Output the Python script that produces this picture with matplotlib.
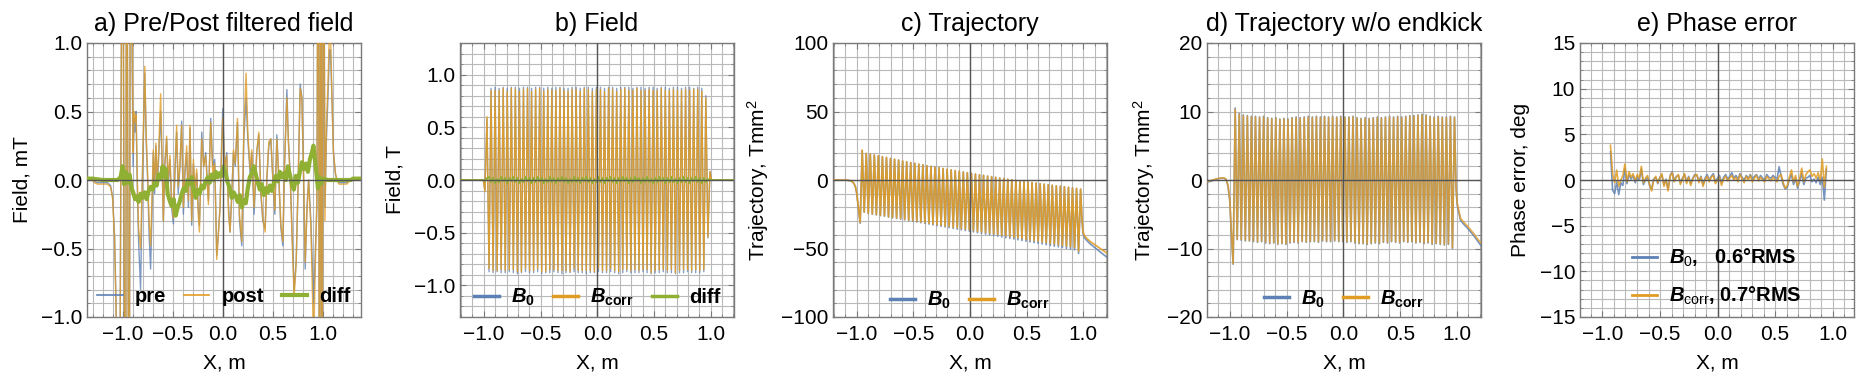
import numpy as np
import matplotlib
matplotlib.use("Agg")
import matplotlib.pyplot as plt
from matplotlib.ticker import MultipleLocator, FuncFormatter
from matplotlib.lines import Line2D

plt.rcParams['font.family'] = ['Liberation Sans', 'DejaVu Sans']
plt.rcParams['mathtext.fontset'] = 'custom'
plt.rcParams['mathtext.rm'] = 'Liberation Sans'
plt.rcParams['mathtext.it'] = 'Liberation Sans:italic:bold'
plt.rcParams['mathtext.bf'] = 'Liberation Sans:bold'

# ---------------- data ----------------
titles = ["a) Pre/Post filtered field", "b) Field", "c) Trajectory",
          "d) Trajectory w/o endkick", "e) Phase error"]
ylabels = ["Field, mT", "Field, T", "Trajectory, Tmm$^2$",
           "Trajectory, Tmm$^2$", "Phase error, deg"]
xlabel = "X, m"

# panel a: pre / post filtered field (mT)
a_x = [-1.36, -1.30, -1.28, -1.25, -1.15, -1.12, -1.10, -1.08, -1.065, -1.05,
       -1.035, -1.015, -1.0, -0.985, -0.97, -0.96, -0.945, -0.935, -0.92, -0.905,
       -0.895, -0.885, -0.875, -0.865, -0.852, -0.84, -0.82, -0.805, -0.79, -0.778,
       -0.765, -0.75, -0.735, -0.72, -0.705, -0.693, -0.68, -0.667, -0.655, -0.64,
       -0.62, -0.605, -0.593, -0.578, -0.56, -0.545, -0.527, -0.51, -0.493, -0.477,
       -0.46, -0.445, -0.427, -0.41, -0.393, -0.377, -0.36, -0.343, -0.327, -0.31,
       -0.293, -0.277, -0.26, -0.245, -0.233, -0.22, -0.21, -0.19, -0.17, -0.143,
       -0.12, -0.10, -0.08, -0.06, -0.045, -0.027, -0.01, 0.0, 0.02, 0.04,
       0.058, 0.073, 0.09, 0.107, 0.125, 0.147, 0.167, 0.19, 0.21, 0.233,
       0.25, 0.273, 0.29, 0.313, 0.34, 0.36, 0.38, 0.40, 0.423, 0.44,
       0.46, 0.48, 0.50, 0.52, 0.54, 0.56, 0.58, 0.60, 0.617, 0.64,
       0.655, 0.673, 0.693, 0.713, 0.733, 0.753, 0.773, 0.79, 0.807, 0.823,
       0.84, 0.857, 0.88, 0.907, 0.925, 0.94, 0.955, 0.965, 0.98, 0.99,
       1.005, 1.02, 1.035, 1.05, 1.065, 1.075, 1.09, 1.105, 1.125, 1.14,
       1.16, 1.24, 1.27, 1.38]
a_pre = [0.0, 0.0, -0.01, -0.02, -0.02, -0.04, -0.12, -0.4, -0.9, -2.0,
         -3.0, 0.5, 3.0, -0.5, -3.0, 3.0, -0.5, -3.0, 3.0, 0.9,
         0.1, 0.45, 0.35, 0.5, -0.1, -0.45, -0.8, -0.1, 0.4, 0.78,
         0.3, 0.0, -0.4, -0.65, -0.2, 0.2, -0.1, 0.25, -0.05, 0.15,
         0.5, 0.1, -0.3, 0.1, 0.3, -0.05, 0.15, -0.2, -0.32, 0.05,
         0.35, -0.1, 0.1, 0.43, -0.25, 0.05, 0.2, -0.2, 0.38, -0.33,
         0.12, -0.1, 0.05, -0.2, -0.33, 0.0, 0.35, 0.1, 0.2, -0.15,
         0.45, 0.1, 0.15, -0.55, -0.4, -0.2, 0.3, 0.52, 0.1, 0.2,
         -0.2, -0.38, -0.1, 0.2, 0.1, 0.42, -0.3, -0.48, 0.3, 0.6,
         0.3, 0.05, 0.2, -0.25, 0.2, 0.33, -0.1, -0.3, -0.35, 0.0,
         0.25, 0.3, 0.0, -0.25, 0.33, 0.0, -0.35, -0.48, 0.1, 0.66,
         0.3, 0.05, -0.4, -0.8, -0.6, 0.0, 0.7, 0.6, 0.0, -0.65,
         -0.2, 0.0, -0.3, -0.9, -0.5, -0.2, 3.0, -3.0, 3.0, -3.0,
         3.0, -0.2, 0.3, 0.6, 0.95, 0.95, 0.6, 0.2, 0.04, 0.0,
         -0.02, -0.02, 0.0, 0.0]
a_post = [0.0, 0.0, -0.02, -0.03, -0.03, -0.05, -0.13, -0.42, -0.95, -2.0,
          -3.0, 0.4, 3.0, -0.4, -3.0, 3.0, -0.6, -3.0, 3.0, 1.2,
          0.2, 0.5, 0.42, 0.48, 0.0, -0.35, -0.5, -0.05, 0.45, 0.83,
          0.35, 0.05, -0.3, -0.48, -0.1, 0.22, -0.05, 0.27, 0.0, 0.2,
          0.63, 0.15, -0.3, 0.12, 0.32, 0.0, 0.18, -0.15, -0.28, 0.1,
          0.4, -0.05, 0.12, 0.4, -0.2, 0.08, 0.25, -0.15, 0.4, -0.3,
          0.15, -0.08, 0.08, -0.25, -0.38, 0.0, 0.3, 0.1, 0.18, -0.18,
          0.42, 0.05, 0.12, -0.58, -0.42, -0.2, 0.25, 0.45, 0.08, 0.18,
          -0.25, -0.38, -0.12, 0.22, 0.12, 0.45, -0.25, -0.45, 0.35, 0.78,
          0.35, 0.08, 0.22, -0.2, 0.22, 0.35, -0.08, -0.28, -0.38, 0.02,
          0.28, 0.3, 0.02, -0.22, 0.3, 0.02, -0.32, -0.45, 0.12, 0.6,
          0.28, 0.02, -0.45, -0.85, -0.6, 0.0, 0.67, 0.6, 0.05, -0.6,
          -0.25, 0.0, -0.35, -1.2, -0.6, -0.1, 3.0, -3.0, 3.0, -3.0,
          3.0, -0.3, 0.4, 0.7, 1.1, 1.1, 0.6, 0.2, 0.05, 0.0,
          -0.03, -0.03, 0.0, 0.0]
a_diff_x = [-1.36, -1.30, -1.20, -1.05, -1.02, -1.0, -0.985, -0.97, -0.95, -0.93,
            -0.91, -0.89, -0.875, -0.86, -0.84, -0.82, -0.80, -0.78, -0.76, -0.74,
            -0.72, -0.70, -0.68, -0.66, -0.64, -0.62, -0.60, -0.585, -0.57, -0.55,
            -0.53, -0.51, -0.49, -0.47, -0.45, -0.43, -0.41, -0.39, -0.37, -0.35,
            -0.33, -0.31, -0.29, -0.27, -0.25, -0.23, -0.21, -0.19, -0.17, -0.15,
            -0.13, -0.11, -0.09, -0.07, -0.05, -0.03, -0.01, 0.01, 0.03, 0.05,
            0.07, 0.09, 0.11, 0.13, 0.15, 0.17, 0.19, 0.21, 0.23, 0.25,
            0.27, 0.29, 0.31, 0.33, 0.35, 0.37, 0.39, 0.41, 0.43, 0.45,
            0.47, 0.49, 0.51, 0.53, 0.55, 0.57, 0.59, 0.61, 0.63, 0.65,
            0.67, 0.69, 0.71, 0.73, 0.75, 0.77, 0.79, 0.81, 0.83, 0.85,
            0.87, 0.89, 0.905, 0.92, 0.935, 0.95, 0.965, 0.98, 1.0, 1.05,
            1.28, 1.30, 1.38]
a_diff = [0.01, 0.01, 0.0, 0.0, 0.02, 0.10, -0.03, 0.06, -0.02, 0.04,
          -0.06, -0.10, -0.14, -0.12, -0.16, -0.10, -0.13, -0.09, -0.14, -0.08,
          -0.05, -0.07, -0.02, -0.04, 0.04, 0.01, 0.10, 0.03, 0.08, -0.10,
          -0.15, -0.19, -0.14, -0.26, -0.20, -0.16, -0.10, -0.06, -0.08, 0.0,
          -0.03, 0.02, -0.08, -0.13, -0.07, -0.10, -0.04, -0.06, -0.01, 0.02,
          -0.02, 0.04, 0.0, 0.06, 0.02, 0.05, 0.03, 0.10, 0.04, -0.02,
          -0.06, -0.13, -0.09, -0.12, -0.16, -0.11, -0.20, -0.15, -0.17, -0.06,
          0.02, 0.05, 0.10, 0.04, -0.02, -0.07, -0.03, -0.11, -0.06, -0.09,
          -0.04, -0.08, -0.02, 0.03, -0.01, 0.06, 0.02, 0.05, 0.0, 0.10,
          0.04, -0.03, -0.07, 0.03, -0.02, 0.06, 0.13, 0.08, 0.12, 0.06,
          0.15, 0.20, 0.25, 0.15, 0.05, -0.06, 0.02, -0.03, 0.01, 0.0,
          0.0, 0.01, 0.01]

# panel b: peak field per pole (T), poles from pole_x0 with spacing pole_step
pole_x0 = -0.99
pole_step = 0.01786
b_B0 = [-0.10, 0.58, -0.87, 0.87, -0.88, 0.88, -0.87, 0.87, -0.88, 0.88,
        -0.88, 0.87, -0.87, 0.88, -0.88, 0.88, -0.89, 0.87, -0.88, 0.88,
        -0.87, 0.88, -0.88, 0.87, -0.88, 0.88, -0.87, 0.88, -0.89, 0.87,
        -0.88, 0.88, -0.88, 0.87, -0.87, 0.88, -0.88, 0.88, -0.89, 0.87,
        -0.88, 0.87, -0.88, 0.88, -0.87, 0.88, -0.88, 0.87, -0.88, 0.88,
        -0.89, 0.88, -0.88, 0.87, -0.88, 0.88, -0.87, 0.88, -0.88, 0.87,
        -0.88, 0.88, -0.87, 0.88, -0.88, 0.87, -0.89, 0.88, -0.88, 0.88,
        -0.87, 0.88, -0.88, 0.87, -0.88, 0.88, -0.88, 0.88, -0.87, 0.87,
        -0.88, 0.88, -0.89, 0.88, -0.88, 0.87, -0.88, 0.88, -0.87, 0.88,
        -0.88, 0.87, -0.88, 0.88, -0.89, 0.88, -0.88, 0.87, -0.88, 0.88,
        -0.87, 0.88, -0.88, 0.87, -0.88, 0.88, -0.88, 0.87, -0.87, 0.80,
        -0.55, 0.08]
b_diff = [-0.01, 0.02, 0.03, -0.02, 0.02, -0.03, 0.01, -0.02, 0.03, -0.01,
          0.02, -0.03, 0.02, -0.01, 0.03, -0.02, 0.02, -0.03, 0.01, -0.02,
          0.03, -0.01, 0.02, -0.03, 0.02, -0.02, 0.03, -0.01, 0.02, -0.03,
          0.01, -0.02, 0.03, -0.02, 0.02, -0.03, 0.02, -0.01, 0.03, -0.02,
          0.02, -0.03, 0.01, -0.02, 0.03, -0.02, 0.02, -0.03, 0.02, -0.01,
          0.03, -0.02, 0.02, -0.03, 0.01, -0.02, 0.03, -0.02, 0.02, -0.03,
          0.02, -0.01, 0.03, -0.02, 0.02, -0.03, 0.02, -0.02, 0.03, -0.01,
          0.02, -0.03, 0.02, -0.02, 0.03, -0.01, 0.02, -0.03, 0.02, -0.02,
          0.03, -0.02, 0.01, -0.03, 0.02, -0.02, 0.03, -0.01, 0.02, -0.03,
          0.02, -0.02, 0.03, -0.02, 0.01, -0.03, 0.02, -0.02, 0.03, -0.02,
          0.02, -0.03, 0.02, -0.01, 0.03, -0.02, 0.02, -0.03, 0.02, -0.02,
          0.01, 0.00]
b_in_x = [-1.22, -1.005]
b_in_y = [0.0, 0.0]
b_out_x = [1.008, 1.22]
b_out_y = [0.0, 0.0]

# panels c, d: trajectory extrema, from traj_x0 with spacing pole_step
traj_x0 = -0.97
c_B0 = [-31.5, 21.5, -23.5, 19.3, -24.5, 18.8, -25.0, 18.2, -25.5, 17.6,
        -26.0, 17.0, -26.5, 16.4, -27.1, 15.7, -27.6, 15.1, -28.1, 14.5,
        -28.6, 13.8, -29.1, 13.2, -29.7, 12.6, -30.2, 12.1, -30.7, 11.5,
        -31.2, 11.0, -31.7, 10.4, -32.2, 9.9, -32.8, 9.4, -33.3, 8.9,
        -33.8, 8.3, -34.3, 7.8, -34.8, 7.3, -35.4, 6.8, -35.9, 6.3,
        -36.4, 5.8, -36.9, 5.3, -37.4, 4.8, -37.9, 4.3, -38.5, 3.8,
        -39.0, 3.3, -39.5, 2.8, -40.0, 2.4, -40.5, 1.9, -41.0, 1.4,
        -41.6, 1.0, -42.1, 0.5, -42.6, 0.1, -43.1, -0.3, -43.6, -0.7,
        -44.2, -1.1, -44.7, -1.5, -45.2, -1.9, -45.7, -2.3, -46.2, -2.7,
        -46.7, -3.1, -47.3, -3.5, -47.8, -3.9, -48.3, -4.3, -48.8, -4.6,
        -49.3, -5.0, -49.9, -5.4, -50.4, -5.8, -50.9, -6.2, -53.6, -6.8]
c_Bcorr = [-31.0, 21.8, -23.3, 19.4, -24.3, 18.9, -24.8, 18.3, -25.3, 17.7,
           -25.8, 17.1, -26.2, 16.5, -26.8, 15.8, -27.3, 15.2, -27.8, 14.6,
           -28.2, 13.9, -28.7, 13.3, -29.3, 12.7, -29.7, 12.2, -30.2, 11.6,
           -30.7, 11.1, -31.1, 10.5, -31.6, 10.0, -32.2, 9.5, -32.6, 9.0,
           -33.1, 8.4, -33.6, 7.9, -34.0, 7.4, -34.6, 6.9, -35.0, 6.4,
           -35.5, 5.9, -36.0, 5.4, -36.4, 4.9, -36.9, 4.4, -37.5, 3.9,
           -37.9, 3.4, -38.4, 2.9, -38.9, 2.5, -39.3, 2.0, -39.8, 1.5,
           -40.4, 1.1, -40.8, 0.6, -41.3, 0.2, -41.8, -0.2, -42.3, -0.6,
           -42.8, -1.0, -43.3, -1.4, -43.8, -1.8, -44.3, -2.2, -44.8, -2.6,
           -45.3, -3.0, -45.8, -3.4, -46.3, -3.8, -46.8, -4.2, -47.3, -4.5,
           -47.8, -4.9, -48.3, -5.3, -48.8, -5.7, -49.3, -6.1, -52.0, -6.6]
c_in_x = [-1.22, -1.09, -1.06, -1.04, -1.025, -1.012, -1.0, -0.988]
c_in_B0 = [0.0, -0.1, -0.5, -1.2, -2.6, -5.0, -10.0, -19.0]
c_in_Bcorr = [0.0, -0.1, -0.5, -1.1, -2.5, -4.8, -9.6, -18.5]
c_out_x = [0.988, 0.998, 1.01, 1.03, 1.06, 1.09, 1.12, 1.15, 1.18, 1.22]
c_out_B0 = [-28.0, -39.0, -42.0, -44.0, -46.5, -48.5, -50.5, -52.5, -54.5, -57.0]
c_out_Bcorr = [-27.0, -37.5, -40.5, -42.5, -44.8, -46.5, -48.3, -50.0, -51.7, -54.0]

d_B0 = [-12.3, 10.5, -8.7, 9.7, -8.8, 9.5, -8.9, 9.4, -8.9, 9.3,
        -9.0, 9.3, -9.1, 9.2, -9.0, 9.3, -9.2, 9.1, -9.3, 9.0,
        -9.2, 9.1, -9.4, 8.9, -9.3, 9.0, -9.4, 8.9, -9.2, 9.1,
        -9.1, 9.2, -9.2, 9.1, -9.0, 9.2, -9.1, 9.3, -9.0, 9.2,
        -9.0, 9.3, -9.1, 9.2, -8.9, 9.3, -9.0, 9.2, -9.0, 9.3,
        -8.9, 9.2, -9.0, 9.3, -9.0, 9.2, -9.1, 9.2, -9.0, 9.3,
        -9.2, 9.1, -9.3, 9.0, -9.3, 9.1, -9.4, 9.0, -9.3, 9.1,
        -9.2, 9.2, -9.3, 9.1, -9.1, 9.2, -9.2, 9.3, -9.0, 9.2,
        -9.1, 9.3, -9.2, 9.2, -9.0, 9.3, -9.1, 9.4, -9.0, 9.4,
        -9.2, 9.5, -9.1, 9.6, -9.3, 9.5, -9.2, 9.3, -9.4, 9.2,
        -9.3, 9.3, -9.4, 9.2, -9.5, 9.2, -9.4, 9.3, -10.0, 9.2]
d_Bcorr = [-12.2, 10.3, -8.6, 9.6, -8.7, 9.4, -8.8, 9.3, -8.8, 9.2,
           -8.9, 9.2, -9.0, 9.1, -8.9, 9.2, -9.1, 9.0, -9.2, 8.9,
           -9.1, 9.0, -9.3, 8.8, -9.2, 8.9, -9.3, 8.8, -9.1, 9.0,
           -9.0, 9.1, -9.1, 9.0, -8.9, 9.1, -9.0, 9.2, -8.9, 9.1,
           -8.9, 9.2, -9.0, 9.1, -8.8, 9.2, -8.9, 9.1, -8.9, 9.2,
           -8.8, 9.1, -8.9, 9.2, -8.9, 9.1, -9.0, 9.1, -8.9, 9.2,
           -9.1, 9.0, -9.2, 8.9, -9.2, 9.0, -9.3, 8.9, -9.2, 9.0,
           -9.1, 9.1, -9.2, 9.0, -9.0, 9.1, -9.1, 9.2, -8.9, 9.1,
           -9.0, 9.2, -9.1, 9.1, -8.9, 9.2, -9.0, 9.3, -8.9, 9.3,
           -9.1, 9.4, -9.0, 9.5, -9.2, 9.4, -9.1, 9.2, -9.3, 9.1,
           -9.2, 9.2, -9.3, 9.1, -9.4, 9.1, -9.3, 9.2, -9.9, 9.1]
d_in_x = [-1.22, -1.17, -1.12, -1.08, -1.05, -1.03, -1.015, -1.0, -0.988]
d_in_B0 = [-0.4, -0.2, 0.1, 0.25, 0.25, 0.05, -0.9, -3.0, -7.0]
d_in_Bcorr = [-0.3, -0.1, 0.15, 0.3, 0.3, 0.1, -0.8, -2.8, -6.8]
d_out_x = [0.99, 1.0, 1.03, 1.06, 1.09, 1.12, 1.15, 1.18, 1.22]
d_out_B0 = [-1.0, -3.6, -5.9, -6.5, -7.0, -7.6, -8.2, -8.9, -9.8]
d_out_Bcorr = [-0.9, -3.3, -5.6, -6.2, -6.7, -7.3, -7.9, -8.6, -9.4]

# panel e: phase error per pole (deg)
phase_x0 = -0.93
e_B0 = [3.1, -1.1, -1.5, -0.2, -1.6, -0.3, -0.6, 1.3, -0.4, 0.6,
        0.1, 0.5, -0.3, 0.4, 0.0, 1.2, -0.5, 0.0, 0.3, -0.6,
        -1.0, 0.1, 0.3, -0.4, 0.3, 0.5, -0.5, 0.1, -1.0, 0.5,
        0.9, -0.1, 0.4, 0.5, -0.3, 0.2, 0.6, -0.2, 0.4, -0.4,
        0.2, 0.6, 0.5, -0.1, 0.4, -0.5, 0.2, 0.6, 0.0, 0.4,
        0.7, -0.2, 0.2, 0.5, -0.3, 0.3, 0.6, 0.1, 0.4, 0.8,
        0.2, 0.5, 0.1, 0.7, 0.3, 0.0, 0.5, 0.2, 0.6, 0.1,
        0.4, 0.6, 0.1, 0.5, 0.2, 0.0, 0.6, 0.3, 0.2, 0.5,
        0.3, 0.1, 1.45, 0.4, -0.5, -1.0, -0.8, 0.1, 0.6, -0.5,
        0.2, -0.9, -0.1, 0.7, -0.5, 0.2, 0.3, 0.5, -0.2, 0.1,
        -0.3, 0.3, -0.5, 0.3, -2.2, 1.2]
e_Bcorr = [3.8, 0.7, -0.3, 1.1, -0.7, 0.0, 0.5, 1.75, -0.2, 0.9,
           0.3, 0.7, -0.1, 0.6, 0.2, 1.5, -0.3, 0.2, 0.5, -0.5,
           -1.2, 0.0, 0.4, -0.3, 0.2, 0.7, -0.7, 0.0, -1.2, 0.4,
           0.8, -0.2, 0.3, 0.6, -0.5, 0.1, 0.7, -0.4, 0.3, -0.6,
           0.1, 0.5, 0.6, -0.3, 0.3, -0.7, 0.0, 0.4, -0.2, 0.3,
           0.5, -0.4, 0.0, 0.3, -0.6, 0.1, 0.4, -0.1, 0.2, 0.5,
           0.0, 0.3, -0.2, 0.6, 0.1, -0.3, 0.4, 0.0, 0.5, -0.2,
           0.2, 0.5, -0.1, 0.3, 0.0, -0.2, 0.4, 0.1, -0.1, 0.3,
           0.0, -0.2, 0.4, 0.6, -0.3, -0.9, -0.6, 0.3, 1.1, -0.2,
           0.5, -0.7, 0.2, 1.3, -0.2, 0.6, 0.9, 1.1, 0.4, 0.7,
           0.2, 0.8, -0.1, 2.3, -0.8, 1.5]
e_labels = [r"$B_\mathrm{0}$,   0.6°RMS", r"$B_\mathrm{corr}$, 0.7°RMS"]

# ---------------- style ----------------
BLUE = "#5E81B5"
ORANGE = "#E19C24"
GREEN = "#8FB032"
GRID = "#b9b9b9"
FRAME = "#7a7a7a"
AXIS = "#555555"
TICK_FS = 15
LABEL_FS = 15
TITLE_FS = 18
LEG_FS = 14.5

W, H = 1867, 385
fig = plt.figure(figsize=(W / 100, H / 100), dpi=100)
lefts = [87, 460, 833, 1207, 1580]
ax_w, ax_h, ax_b = 274, 274, 68
axes = [fig.add_axes([l / W, ax_b / H, ax_w / W, ax_h / H]) for l in lefts]


def fmt(dec):
    def f(v, p):
        if abs(v) < 1e-9:
            v = 0.0
        s = f"{v:.{dec}f}"
        return s.replace("-", "\u2212")
    return FuncFormatter(f)


def style(ax, xlim, ylim, ymaj, ymin, ydec):
    ax.set_xlim(*xlim)
    ax.set_ylim(*ylim)
    ax.xaxis.set_major_locator(MultipleLocator(0.5))
    ax.xaxis.set_minor_locator(MultipleLocator(0.1))
    ax.yaxis.set_major_locator(MultipleLocator(ymaj))
    ax.yaxis.set_minor_locator(MultipleLocator(ymin))
    ax.xaxis.set_major_formatter(fmt(1))
    ax.yaxis.set_major_formatter(fmt(ydec))
    ax.grid(which="both", color=GRID, lw=0.8)
    ax.set_axisbelow(True)
    for s in ax.spines.values():
        s.set_color(FRAME)
        s.set_linewidth(1.0)
    ax.tick_params(which="both", direction="in", top=True, right=True,
                   color=FRAME, labelsize=TICK_FS, labelcolor="black")
    ax.tick_params(which="major", length=4)
    ax.tick_params(which="minor", length=2)
    ax.tick_params(axis="x", pad=5.5)
    ax.tick_params(axis="y", pad=3.5)
    ax.axhline(0, color=AXIS, lw=1.0, zorder=5)
    ax.axvline(0, color=AXIS, lw=1.0, zorder=5)
    ax.set_xlabel(xlabel, fontsize=LABEL_FS, labelpad=7)


leg_kw = dict(frameon=False, prop={"weight": "bold", "size": LEG_FS},
              handlelength=1.25, handletextpad=0.6, columnspacing=0.9,
              borderpad=0.0, borderaxespad=0.0)

# ---- a ----
ax = axes[0]
ax.plot(a_x, a_pre, color=BLUE, lw=1.0, alpha=0.8, zorder=2)
ax.plot(a_x, a_post, color=ORANGE, lw=1.0, alpha=0.8, zorder=3)
ax.plot(a_diff_x, a_diff, color=GREEN, lw=3.0, zorder=4)
style(ax, (-1.355, 1.38), (-1.0, 1.0), 0.5, 0.1, 1)
hs = [Line2D([], [], color=BLUE, lw=1.2), Line2D([], [], color=ORANGE, lw=1.2),
      Line2D([], [], color=GREEN, lw=3.0)]
ax.legend(hs, ["pre", "post", "diff"], ncol=3, loc="center",
          bbox_to_anchor=(0.5, 0.073), **leg_kw)

# ---- b ----
ax = axes[1]
bx = pole_x0 + pole_step * np.arange(len(b_B0))
b0 = np.array(b_B0)
bc = b0 + np.array(b_diff)
bxx = np.concatenate([b_in_x, bx, b_out_x])
ax.plot(bxx, np.concatenate([b_in_y, b0, b_out_y]),
        color=BLUE, lw=1.0, alpha=0.75, zorder=2)
ax.plot(bxx, np.concatenate([b_in_y, bc, b_out_y]),
        color=ORANGE, lw=1.0, alpha=0.9, zorder=3)
ax.plot(bxx, np.concatenate([b_in_y, b_diff, b_out_y]),
        color=GREEN, lw=1.2, zorder=4)
style(ax, (-1.21, 1.205), (-1.3, 1.3), 0.5, 0.1, 1)
hs = [Line2D([], [], color=BLUE, lw=2.5), Line2D([], [], color=ORANGE, lw=2.5),
      Line2D([], [], color=GREEN, lw=2.5)]
ax.legend(hs, [r"$B_\mathbf{0}$", r"$B_\mathbf{corr}$", "diff"], ncol=3,
          loc="center", bbox_to_anchor=(0.5, 0.07), **leg_kw)

# ---- c ----
ax = axes[2]
cx = traj_x0 + pole_step * np.arange(len(c_B0))
cxc = traj_x0 + pole_step * np.arange(len(c_Bcorr))
ax.plot(np.concatenate([c_in_x, cx, c_out_x]),
        np.concatenate([c_in_B0, c_B0, c_out_B0]),
        color=BLUE, lw=1.2, alpha=0.85, zorder=2)
ax.plot(np.concatenate([c_in_x, cxc, c_out_x]),
        np.concatenate([c_in_Bcorr, c_Bcorr, c_out_Bcorr]),
        color=ORANGE, lw=1.2, alpha=0.9, zorder=3)
style(ax, (-1.21, 1.21), (-100, 100), 50, 10, 0)
hs = [Line2D([], [], color=BLUE, lw=2.5), Line2D([], [], color=ORANGE, lw=2.5)]
ax.legend(hs, [r"$B_\mathbf{0}$", r"$B_\mathbf{corr}$"], ncol=2,
          loc="center", bbox_to_anchor=(0.5, 0.06), **leg_kw)

# ---- d ----
ax = axes[3]
dx = traj_x0 + pole_step * np.arange(len(d_B0))
dxc = traj_x0 + pole_step * np.arange(len(d_Bcorr))
ax.plot(np.concatenate([d_in_x, dx, d_out_x]),
        np.concatenate([d_in_B0, d_B0, d_out_B0]),
        color=BLUE, lw=1.2, alpha=0.85, zorder=2)
ax.plot(np.concatenate([d_in_x, dxc, d_out_x]),
        np.concatenate([d_in_Bcorr, d_Bcorr, d_out_Bcorr]),
        color=ORANGE, lw=1.2, alpha=0.8, zorder=3)
style(ax, (-1.2, 1.21), (-20, 20), 10, 2, 0)
hs = [Line2D([], [], color=BLUE, lw=2.5), Line2D([], [], color=ORANGE, lw=2.5)]
ax.legend(hs, [r"$B_\mathbf{0}$", r"$B_\mathbf{corr}$"], ncol=2,
          loc="center", bbox_to_anchor=(0.5, 0.065), **leg_kw)

# ---- e ----
ax = axes[4]
ex = phase_x0 + pole_step * np.arange(len(e_B0))
exc = phase_x0 + pole_step * np.arange(len(e_Bcorr))
ax.plot(ex, e_B0, color=BLUE, lw=1.2, alpha=0.85, zorder=2)
ax.plot(exc, e_Bcorr, color=ORANGE, lw=1.2, alpha=0.85, zorder=3)
style(ax, (-1.195, 1.185), (-15, 15), 5, 1, 0)
hs = [Line2D([], [], color=BLUE, lw=2.0), Line2D([], [], color=ORANGE, lw=2.0)]
ax.legend(hs, e_labels, ncol=1, loc="center", bbox_to_anchor=(0.5, 0.146),
          labelspacing=0.8, **leg_kw)

for ax, t, yl in zip(axes, titles, ylabels):
    ax.set_title(t, fontsize=TITLE_FS, pad=9)
    ax.set_ylabel(yl, fontsize=LABEL_FS, labelpad=7)

fig.savefig("out.png", dpi=100)
